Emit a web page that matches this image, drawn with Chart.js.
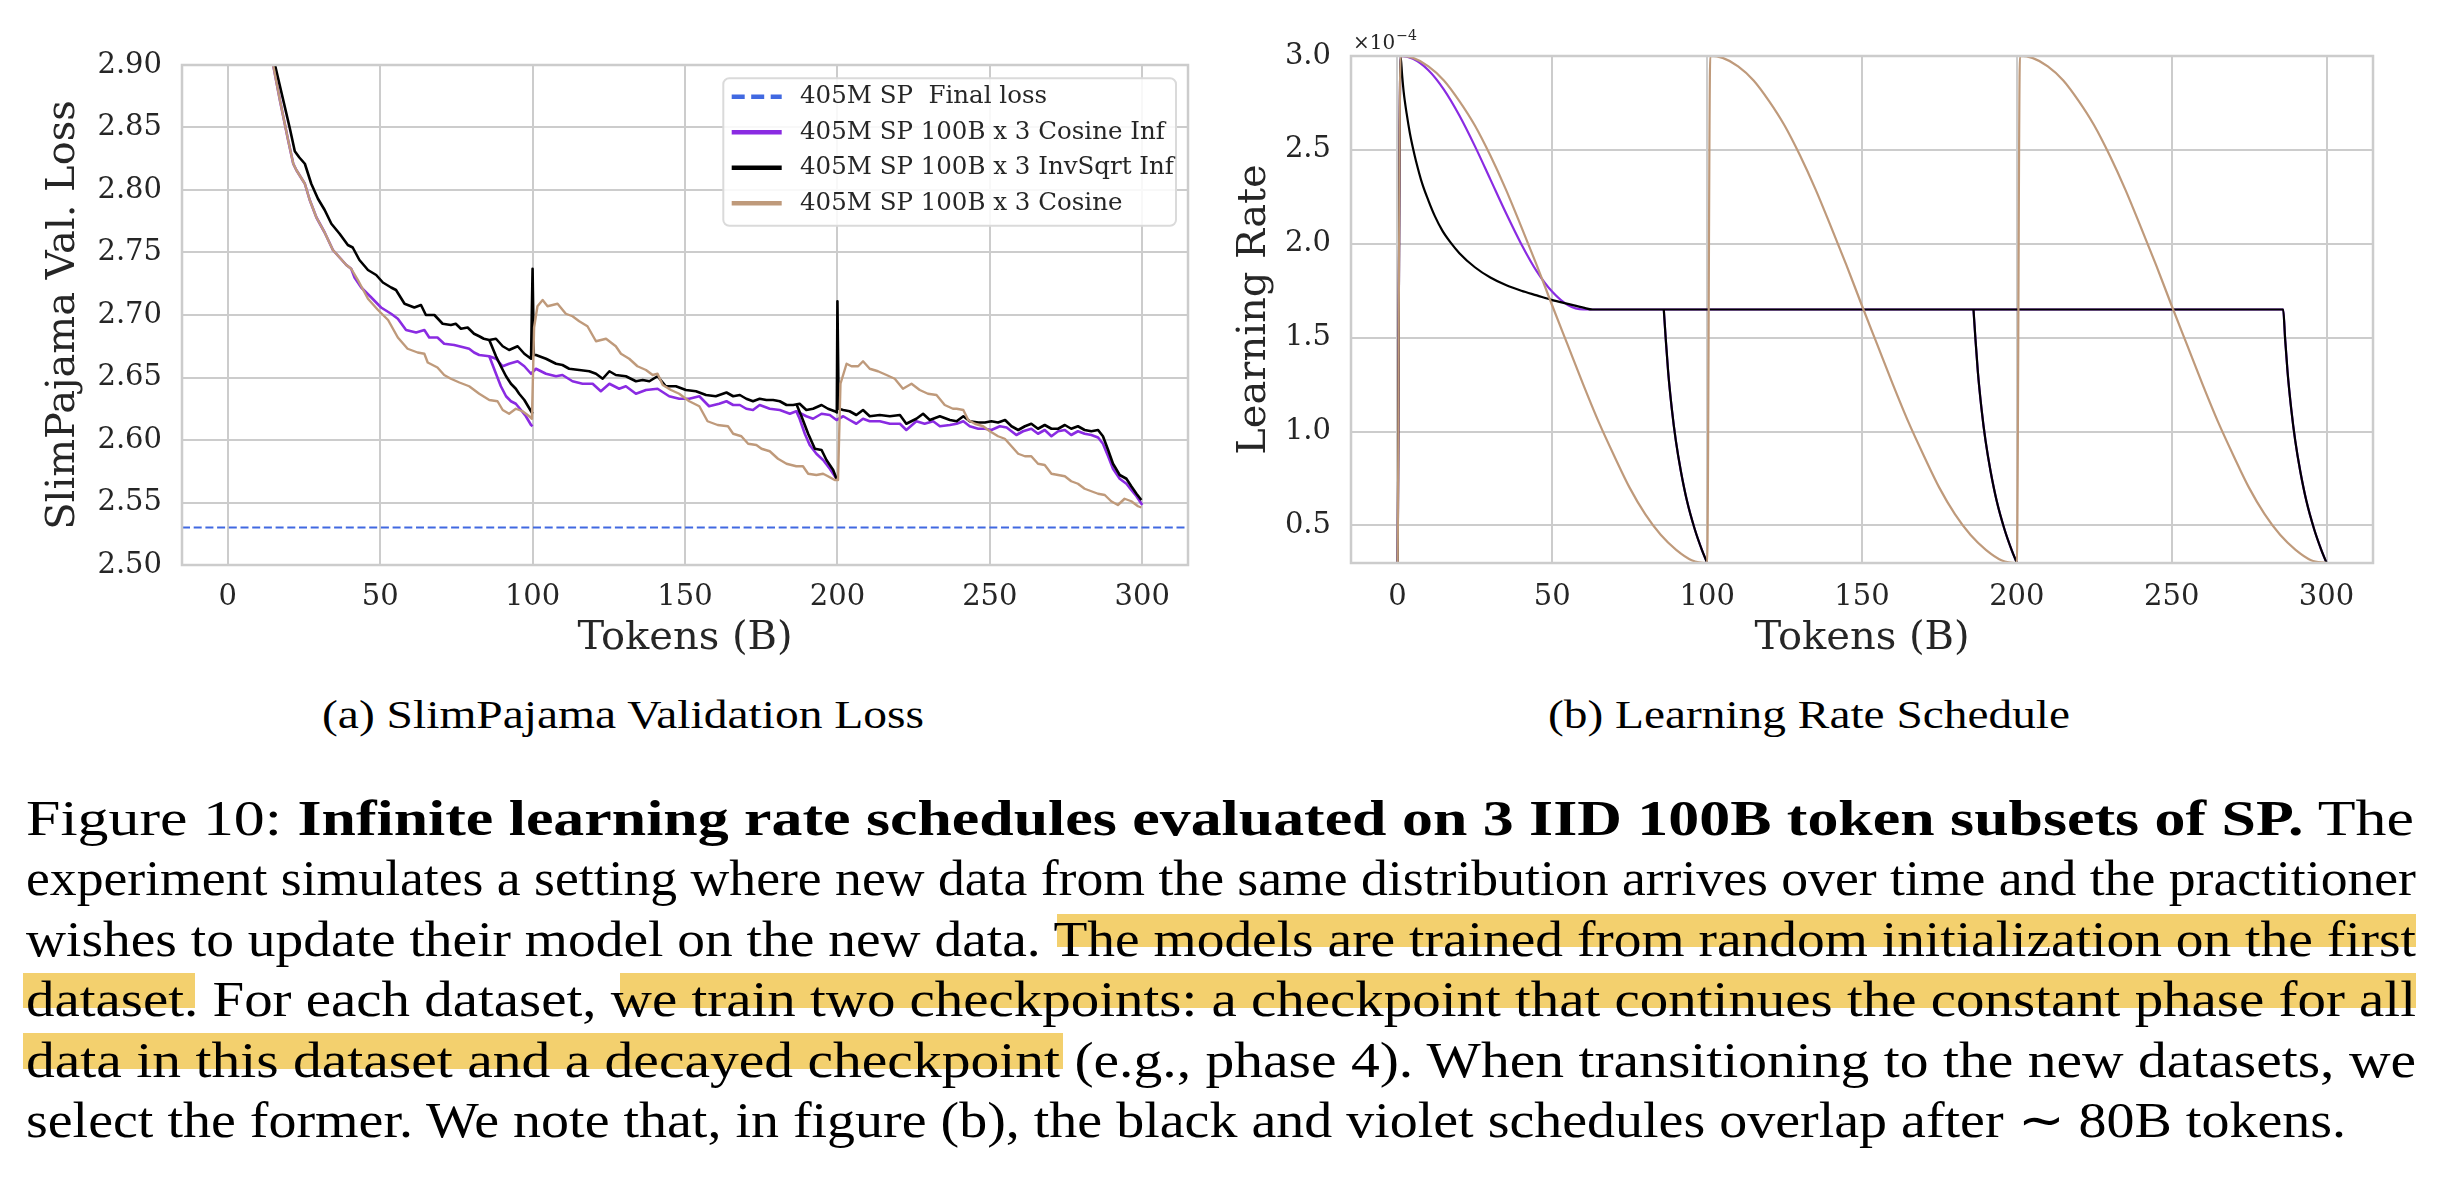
<!DOCTYPE html>
<html>
<head>
<meta charset="utf-8">
<script src="https://cdn.jsdelivr.net/npm/chart.js@4.4.1/dist/chart.umd.min.js"></script>
<style>
html,body{margin:0;padding:0;background:#fff;}
body{width:2444px;height:1178px;position:relative;overflow:hidden;}
canvas{position:absolute;top:0;}
#c1{left:0;}
#c2{left:1220px;}
.sub{position:absolute;font-family:'Liberation Serif',serif;font-size:39px;line-height:39px;color:#000;white-space:nowrap;transform-origin:0 0;}
.cap{position:absolute;left:26px;font-family:'Liberation Serif',serif;font-size:50px;line-height:60px;color:#000;white-space:nowrap;transform-origin:0 0;}
.hl{position:absolute;background:#f3d06e;}
</style>
</head>
<body>
<div class="hl" style="left:1057px;top:914px;width:1359px;height:33px"></div>
<div class="hl" style="left:23px;top:973px;width:172px;height:35px"></div>
<div class="hl" style="left:620px;top:973px;width:1796px;height:35px"></div>
<div class="hl" style="left:23px;top:1033px;width:1040px;height:36px"></div>

<canvas id="c1" width="1220" height="680"></canvas>
<canvas id="c2" width="1224" height="680"></canvas>

<div class="sub fit" data-w="602" style="left:322px;top:695px">(a) SlimPajama Validation Loss</div>
<div class="sub fit" data-w="522" style="left:1548px;top:695px">(b) Learning Rate Schedule</div>

<div class="cap fit" data-w="2388" style="top:788px">Figure 10: <b>Infinite learning rate schedules evaluated on 3 IID 100B token subsets of SP.</b> The</div>
<div class="cap fit" data-w="2390" style="top:848px">experiment simulates a setting where new data from the same distribution arrives over time and the practitioner</div>
<div class="cap fit" data-w="2390" style="top:909px">wishes to update their model on the new data. The models are trained from random initialization on the first</div>
<div class="cap fit" data-w="2390" style="top:969px">dataset. For each dataset, we train two checkpoints: a checkpoint that continues the constant phase for all</div>
<div class="cap fit" data-w="2390" style="top:1030px">data in this dataset and a decayed checkpoint (e.g., phase 4). When transitioning to the new datasets, we</div>
<div class="cap fit" data-w="2320" style="top:1090px">select the former. We note that, in figure (b), the black and violet schedules overlap after ∼ 80B tokens.</div>

<script>
// ---------------- DATA ----------------
const xTicks = [0, 50, 100, 150, 200, 250, 300];
const xLimits = [-15, 315];
const lossTicks = [2.50, 2.55, 2.60, 2.65, 2.70, 2.75, 2.80, 2.85, 2.90];
const lossLimits = [2.50, 2.90];
const lrTicks = [0.5, 1.0, 1.5, 2.0, 2.5, 3.0];
const lrLimits = [0.3, 3.0];
const lrExponent = '−4';
const seriesLabels = ['405M SP  Final loss', '405M SP 100B x 3 Cosine Inf', '405M SP 100B x 3 InvSqrt Inf', '405M SP 100B x 3 Cosine'];
const finalLoss = 2.53;

// validation loss: [tokens (B), loss]
const cosInfLoss = [[12.5,2.945],[14.9,2.900],[17.1,2.872],[19.8,2.840],[21.5,2.821],[22.5,2.816],[25.3,2.805],[26.9,2.792],[29.1,2.778],[31.8,2.766],[34.5,2.752],[36.7,2.746],[38.9,2.740],[40.5,2.737],[41.6,2.730],[43.8,2.722],[47.1,2.714],[50.3,2.706],[53.6,2.701],[55.8,2.697],[58.5,2.688],[61.8,2.686],[64.5,2.688],[66.1,2.682],[68.8,2.682],[71,2.677],[74.3,2.676],[77.6,2.674],[79.2,2.673],[80.8,2.670],[82.5,2.668],[85.8,2.667],[88,2.665],[90.2,2.659],[92.3,2.661],[95.1,2.663],[97.3,2.659],[99.5,2.653],[101.1,2.657],[104.4,2.653],[107.7,2.651],[109.8,2.652],[113.1,2.647],[116.4,2.645],[119.7,2.645],[122.4,2.639],[125.2,2.645],[128.4,2.641],[130.6,2.643],[133.9,2.637],[137.2,2.640],[141,2.641],[144.8,2.635],[148.1,2.633],[151.4,2.633],[154.7,2.635],[157.9,2.627],[161.2,2.629],[163.6,2.631],[165.8,2.628],[168,2.628],[170.1,2.625],[172.3,2.624],[174.5,2.628],[177.8,2.625],[181.1,2.624],[184.4,2.621],[186.5,2.623],[189.8,2.619],[192,2.617],[194.8,2.621],[197.5,2.620],[199.7,2.616],[201.9,2.619],[204,2.616],[206.2,2.613],[208.4,2.617],[210.6,2.615],[213.9,2.615],[217.2,2.613],[220.5,2.613],[222.6,2.608],[225.9,2.615],[228.6,2.613],[231.4,2.615],[233.6,2.611],[236.9,2.612],[239.1,2.613],[241.3,2.615],[243.4,2.611],[246.2,2.609],[248.4,2.609],[250.5,2.608],[253.3,2.611],[255.5,2.610],[258.7,2.604],[260.9,2.607],[263.6,2.609],[265.8,2.605],[268,2.608],[270.2,2.603],[272.4,2.607],[274.6,2.608],[276.7,2.604],[278.9,2.607],[281.1,2.605],[283.3,2.604],[285.5,2.602],[287.1,2.597],[288.8,2.587],[290.4,2.577],[292.6,2.569],[294.8,2.565],[296.4,2.560],[298.1,2.555],[300,2.548]];
const cosInfDecayLoss1 = [[85.8,2.667],[88,2.653],[89.6,2.643],[91.3,2.635],[92.9,2.631],[94.5,2.629],[96.2,2.624],[97.8,2.619],[99.5,2.612],[100,2.611]];
const cosInfDecayLoss2 = [[186.5,2.623],[187.6,2.617],[189.3,2.605],[190.9,2.596],[193.1,2.589],[195.3,2.584],[197.5,2.577],[199.7,2.569]];

const invSqrtLoss = [[13,2.945],[15.5,2.900],[18.2,2.872],[20.4,2.849],[22,2.831],[23.5,2.826],[25.3,2.821],[27.4,2.805],[29.6,2.793],[31.8,2.784],[34,2.773],[36.7,2.765],[39.4,2.756],[41,2.754],[43.2,2.744],[46,2.736],[48.7,2.732],[50.9,2.726],[53.6,2.722],[55.2,2.720],[58,2.709],[61.2,2.706],[63.4,2.708],[65,2.700],[67.8,2.700],[70.5,2.693],[73.2,2.692],[74.8,2.693],[76.5,2.689],[78.7,2.690],[80.8,2.685],[82.5,2.683],[84,2.681],[85.8,2.680],[88,2.681],[90.2,2.675],[92.3,2.672],[95.1,2.675],[97.3,2.669],[99.5,2.665],[100,2.737],[100.4,2.668],[101.1,2.668],[104.4,2.665],[107.7,2.661],[109.8,2.660],[112,2.657],[115.3,2.656],[118.6,2.655],[120.8,2.653],[123,2.649],[125.2,2.655],[127.3,2.652],[130.6,2.651],[133.9,2.647],[136.1,2.648],[138.3,2.647],[141,2.651],[143.7,2.643],[147,2.643],[150.3,2.640],[153.6,2.639],[156.9,2.636],[160.1,2.635],[163.6,2.638],[165.8,2.635],[168,2.636],[170.1,2.633],[172.3,2.631],[174.5,2.633],[176.7,2.632],[178.9,2.632],[181.1,2.631],[183.3,2.628],[185.5,2.628],[187.6,2.629],[189.8,2.624],[192,2.625],[194.8,2.628],[196.9,2.625],[199.1,2.623],[199.8,2.622],[200,2.711],[200.4,2.625],[201.9,2.624],[204,2.623],[206.2,2.620],[208.4,2.624],[210.6,2.619],[213.9,2.620],[217.2,2.619],[220.5,2.620],[222.6,2.613],[225.9,2.617],[228.1,2.621],[230.3,2.616],[233.6,2.619],[236.9,2.616],[239.1,2.615],[241.3,2.619],[243.4,2.615],[246.2,2.614],[248.4,2.614],[250.5,2.615],[252.7,2.614],[255,2.616],[257.1,2.611],[259.3,2.608],[261.5,2.611],[263.6,2.613],[265.8,2.609],[268,2.612],[270.2,2.609],[272.4,2.609],[274.6,2.612],[276.7,2.609],[278.9,2.611],[281.1,2.608],[283.3,2.607],[285.5,2.608],[287.1,2.603],[288.8,2.592],[290.4,2.581],[292.6,2.572],[294.8,2.569],[296.4,2.563],[298.1,2.557],[299.7,2.552]];
const invSqrtDecayLoss1 = [[85.8,2.680],[88,2.667],[89.6,2.659],[91.3,2.651],[92.9,2.645],[94.5,2.641],[95.6,2.637],[97.3,2.632],[99.5,2.623],[100,2.621]];
const invSqrtDecayLoss2 = [[186.5,2.629],[188.2,2.619],[190.4,2.605],[192.6,2.593],[194.8,2.592],[196.4,2.584],[198.6,2.576],[199.7,2.569]];

const cosineLoss = [[12.5,2.945],[14.9,2.900],[17.1,2.872],[19.8,2.840],[21.5,2.821],[22.5,2.816],[25.3,2.805],[26.9,2.792],[29.1,2.778],[31.8,2.766],[34.5,2.752],[36.7,2.746],[38.9,2.740],[40.5,2.737],[42.7,2.728],[46,2.713],[49.3,2.704],[52.6,2.696],[55.8,2.682],[59,2.673],[62.3,2.670],[64.5,2.669],[65.6,2.662],[68.8,2.658],[71,2.652],[73.2,2.649],[76,2.646],[79.2,2.643],[82.5,2.637],[85.8,2.632],[88.5,2.631],[90.2,2.624],[92.3,2.621],[94.5,2.625],[96.7,2.623],[98.9,2.619],[99.8,2.617],[100.5,2.690],[101.6,2.707],[103.3,2.712],[104.9,2.707],[108.2,2.709],[110.9,2.701],[113.1,2.699],[115.3,2.695],[118,2.691],[120.8,2.679],[124.1,2.681],[127.3,2.675],[129,2.669],[131.7,2.665],[134.4,2.659],[137.2,2.656],[139.4,2.652],[141,2.653],[142.7,2.644],[145.4,2.640],[148.1,2.637],[151.4,2.631],[154.7,2.627],[157.4,2.615],[160.7,2.612],[164.1,2.611],[165.8,2.605],[168.5,2.603],[170.7,2.597],[173.4,2.596],[175.1,2.593],[177.8,2.591],[180.5,2.585],[183.3,2.581],[186.5,2.579],[188.7,2.579],[190.4,2.573],[193.1,2.572],[195.3,2.573],[196.9,2.571],[199.1,2.568],[200.2,2.568],[201,2.645],[203,2.661],[204.6,2.659],[206.8,2.659],[208.4,2.663],[210.6,2.657],[213.3,2.655],[216.1,2.652],[218.8,2.649],[221.5,2.641],[224.3,2.645],[227,2.640],[229.7,2.637],[232.5,2.636],[235.2,2.628],[237.9,2.625],[239.1,2.625],[241.3,2.624],[242.9,2.616],[245.1,2.613],[247.8,2.611],[250,2.607],[252.7,2.603],[254.9,2.601],[257.1,2.595],[259.3,2.589],[261.5,2.587],[263.6,2.587],[265.8,2.581],[268,2.580],[270.2,2.573],[272.4,2.572],[274.6,2.571],[276.7,2.567],[278.9,2.565],[281.1,2.561],[283.3,2.559],[285.5,2.557],[287.7,2.556],[289.8,2.551],[292,2.548],[294.2,2.553],[296.4,2.551],[298.6,2.547],[299.7,2.546]];

// learning rate (x 1e-4): [tokens (B), lr]
const cosineLr = [[0,0.0],[1,3.0],[5,2.99],[10,2.945],[15,2.87],[20,2.76],[25,2.63],[30,2.47],[35,2.29],[40,2.09],[45,1.885],[50,1.67],[55,1.46],[60,1.25],[65,1.05],[70,0.87],[75,0.70],[80,0.56],[85,0.45],[90,0.37],[95,0.315],[100,0.30],
  [101,3.0],[105,2.99],[110,2.945],[115,2.87],[120,2.76],[125,2.63],[130,2.47],[135,2.29],[140,2.09],[145,1.885],[150,1.67],[155,1.46],[160,1.25],[165,1.05],[170,0.87],[175,0.70],[180,0.56],[185,0.45],[190,0.37],[195,0.315],[200,0.30],
  [201,3.0],[205,2.99],[210,2.945],[215,2.87],[220,2.76],[225,2.63],[230,2.47],[235,2.29],[240,2.09],[245,1.885],[250,1.67],[255,1.46],[260,1.25],[265,1.05],[270,0.87],[275,0.70],[280,0.56],[285,0.45],[290,0.37],[295,0.315],[300,0.30]];
const cosInfLr = [[0,0.0],[1,3.0],[5,2.985],[10,2.924],[15,2.821],[20,2.683],[25,2.52],[30,2.343],[35,2.165],[40,1.998],[45,1.853],[50,1.744],[55,1.674],[60,1.65],[286,1.65],[286.6,1.50],[287.4,1.32],[288.6,1.12],[289.9,0.95],[291.5,0.79],[293.5,0.63],[296,0.48],[298.3,0.37],[300,0.30]];
const invSqrtLr = [[0,0.0],[1,3.0],[1.5,2.90],[2,2.81],[3,2.69],[4,2.59],[5,2.51],[6,2.44],[8,2.32],[10,2.23],[12,2.15],[14.5,2.07],[17,2.01],[20,1.95],[25,1.875],[30,1.82],[35,1.78],[40,1.75],[45,1.725],[50,1.70],[55,1.68],[60,1.66],[63,1.65],[286,1.65],[286.6,1.50],[287.4,1.32],[288.6,1.12],[289.9,0.95],[291.5,0.79],[293.5,0.63],[296,0.48],[298.3,0.37],[300,0.30]];
const decayLr1 = [[86,1.65],[86.6,1.50],[87.4,1.32],[88.6,1.12],[89.9,0.95],[91.5,0.79],[93.5,0.63],[96,0.48],[98.3,0.37],[100,0.30]];
const decayLr2 = [[186,1.65],[186.6,1.50],[187.4,1.32],[188.6,1.12],[189.9,0.95],[191.5,0.79],[193.5,0.63],[196,0.48],[198.3,0.37],[200,0.30]];

// ---------------- STYLE ----------------
const FONT = "'DejaVu Serif', serif";
const TXT = '#262626';
const GRID = '#cccccc';
const COL = {final:'#4169e1', cosInf:'#8a2be2', invSqrt:'#000000', cosine:'#bf9a7b'};

Chart.defaults.font.family = FONT;
Chart.defaults.color = TXT;

const pts = arr => arr.map(p => ({x:p[0], y:p[1]}));

function ds(label, arr, color, w, order, extra) {
  return Object.assign({label, data: pts(arr), borderColor: color, backgroundColor: color,
    borderWidth: w, pointRadius: 0, fill: false, tension: 0, order,
    borderJoinStyle: 'round', borderCapStyle: 'butt'}, extra || {});
}

const frame = {
  id: 'frame',
  afterDatasetsDraw(chart) {
    const {ctx, chartArea: a} = chart;
    ctx.save();
    ctx.strokeStyle = GRID; ctx.lineWidth = 2.5;
    ctx.strokeRect(a.left, a.top, a.right - a.left, a.bottom - a.top);
    ctx.restore();
  }
};

function scales(o) {
  return {
    x: {
      type: 'linear', min: xLimits[0], max: xLimits[1],
      afterBuildTicks: s => { s.ticks = xTicks.map(v => ({value: v})); },
      afterFit: s => { s.height = o.xh; },
      grid: {color: GRID, lineWidth: 2, drawTicks: false},
      border: {display: false},
      ticks: {font: {family: FONT, size: 29}, color: TXT, padding: o.xpad, maxRotation: 0, autoSkip: false, callback: v => String(v)},
      title: {display: true, text: 'Tokens (B)', font: {family: FONT, size: 40}, color: TXT, padding: {top: 0, bottom: o.xtpad}}
    },
    y: {
      type: 'linear', min: o.ylim[0], max: o.ylim[1],
      afterBuildTicks: s => { s.ticks = o.yticks.map(v => ({value: v})); },
      afterFit: s => { s.width = o.yw; },
      grid: {color: GRID, lineWidth: 2, drawTicks: false},
      border: {display: false},
      ticks: {font: {family: FONT, size: 29}, color: TXT, padding: 20, autoSkip: false, callback: v => v.toFixed(o.dec)},
      title: {display: true, text: o.ytitle, font: {family: FONT, size: 40}, color: TXT, padding: {top: o.ytpad, bottom: 0}}
    }
  };
}

// legend inside the loss plot
const legendCfg = {x: 723.3, y: 78.3, w: 452.7, h: 147.4, r: 6, row0: 96.7, step: 35.5, l0: 731.7, l1: 781.7, tx: 800, fs: 24.5, lw: 4.5,
  items: [
    {text: seriesLabels[0], color: COL.final, dash: [13, 6.5]},
    {text: seriesLabels[1], color: COL.cosInf},
    {text: seriesLabels[2], color: COL.invSqrt},
    {text: seriesLabels[3], color: COL.cosine}
  ]};
const boxLegend = {
  id: 'boxLegend',
  afterDraw(chart) {
    const c = legendCfg, ctx = chart.ctx;
    ctx.save();
    ctx.beginPath();
    const {x, y, w, h, r} = c;
    ctx.moveTo(x + r, y); ctx.lineTo(x + w - r, y); ctx.arcTo(x + w, y, x + w, y + r, r);
    ctx.lineTo(x + w, y + h - r); ctx.arcTo(x + w, y + h, x + w - r, y + h, r);
    ctx.lineTo(x + r, y + h); ctx.arcTo(x, y + h, x, y + h - r, r);
    ctx.lineTo(x, y + r); ctx.arcTo(x, y, x + r, y, r); ctx.closePath();
    ctx.fillStyle = 'rgba(255,255,255,0.85)'; ctx.fill();
    ctx.strokeStyle = '#dadada'; ctx.lineWidth = 2; ctx.stroke();
    c.items.forEach((it, i) => {
      const yy = c.row0 + i * c.step;
      ctx.beginPath(); ctx.setLineDash(it.dash || []); ctx.strokeStyle = it.color; ctx.lineWidth = c.lw; ctx.lineCap = 'butt';
      ctx.moveTo(c.l0, yy); ctx.lineTo(c.l1, yy); ctx.stroke(); ctx.setLineDash([]);
      ctx.fillStyle = TXT; ctx.font = c.fs + 'px ' + FONT; ctx.textBaseline = 'middle'; ctx.textAlign = 'left';
      ctx.fillText(it.text, c.tx, yy);
    });
    ctx.restore();
  }
};

const offsetText = {
  id: 'offsetText',
  afterDraw(chart) {
    const {ctx, chartArea: a} = chart;
    ctx.save(); ctx.fillStyle = TXT; ctx.textBaseline = 'alphabetic'; ctx.textAlign = 'left';
    ctx.font = '20px ' + FONT;
    ctx.fillText('×10', a.left + 2, a.top - 7);
    const w = ctx.measureText('×10').width;
    ctx.font = '14px ' + FONT;
    ctx.fillText(lrExponent, a.left + 3 + w, a.top - 16);
    ctx.restore();
  }
};

const common = {responsive: false, animation: false, devicePixelRatio: 1, events: [],
  plugins: {legend: {display: false}, tooltip: {enabled: false}}};

new Chart(document.getElementById('c1'), {
  type: 'line',
  data: {datasets: [
    ds(seriesLabels[0], [[xLimits[0], finalLoss], [xLimits[1], finalLoss]], COL.final, 2, 4, {borderDash: [8, 3.7]}),
    ds(seriesLabels[1], cosInfLoss, COL.cosInf, 2.6, 3),
    ds(seriesLabels[1], cosInfDecayLoss1, COL.cosInf, 2.6, 3),
    ds(seriesLabels[1], cosInfDecayLoss2, COL.cosInf, 2.6, 3),
    ds(seriesLabels[2], invSqrtLoss, COL.invSqrt, 2.6, 2),
    ds(seriesLabels[2], invSqrtDecayLoss1, COL.invSqrt, 2.6, 2),
    ds(seriesLabels[2], invSqrtDecayLoss2, COL.invSqrt, 2.6, 2),
    ds(seriesLabels[3], cosineLoss, COL.cosine, 2.4, 1)
  ]},
  options: Object.assign({}, common, {
    layout: {padding: {left: 0, top: 65, right: 32, bottom: 0}},
    scales: scales({xh: 115, xpad: 15, xtpad: 17, ylim: lossLimits, yticks: lossTicks, yw: 182, dec: 2, ytitle: 'SlimPajama Val. Loss', ytpad: 40})
  }),
  plugins: [frame, boxLegend]
});

const lrOpts = {cubicInterpolationMode: 'monotone'};
new Chart(document.getElementById('c2'), {
  type: 'line',
  data: {datasets: [
    ds(seriesLabels[1], cosInfLr, COL.cosInf, 2.2, 3, lrOpts),
    ds(seriesLabels[1], decayLr1, COL.cosInf, 2.2, 3, lrOpts),
    ds(seriesLabels[1], decayLr2, COL.cosInf, 2.2, 3, lrOpts),
    ds(seriesLabels[2], invSqrtLr, COL.invSqrt, 2.2, 2, lrOpts),
    ds(seriesLabels[2], decayLr1, COL.invSqrt, 2.2, 2, lrOpts),
    ds(seriesLabels[2], decayLr2, COL.invSqrt, 2.2, 2, lrOpts),
    ds(seriesLabels[3], cosineLr, COL.cosine, 2.2, 1, lrOpts)
  ]},
  options: Object.assign({}, common, {
    layout: {padding: {left: 0, top: 56, right: 71, bottom: 0}},
    scales: scales({xh: 117, xpad: 17, xtpad: 17, ylim: lrLimits, yticks: lrTicks, yw: 131, dec: 1, ytitle: 'Learning Rate', ytpad: 11})
  }),
  plugins: [frame, offsetText]
});

// stretch caption lines horizontally to the widths of the original typesetting
document.querySelectorAll('.fit').forEach(el => {
  const w = el.getBoundingClientRect().width;
  el.style.transform = 'scaleX(' + (+el.dataset.w / w) + ')';
});
</script>
</body>
</html>
